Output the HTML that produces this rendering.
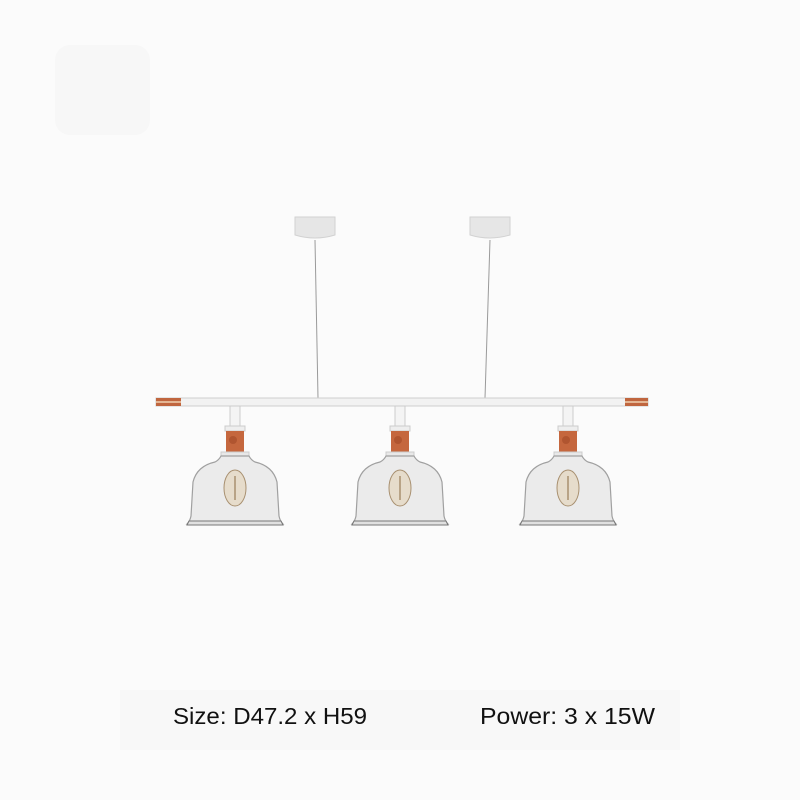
<!DOCTYPE html>
<html><head><style>
html,body{margin:0;padding:0;background:#fbfbfb;}
svg{display:block}
</style></head><body>
<svg width="800" height="800" viewBox="0 0 800 800" xmlns="http://www.w3.org/2000/svg">
<rect width="800" height="800" fill="#fbfbfb"/>
<rect x="55" y="45" width="95" height="90" rx="15" fill="#f7f7f7"/>
<g fill="#e6e6e6" stroke="#d2d2d2" stroke-width="1">
<path d="M295 217 h40 v18 q-20 6 -40 0z"/>
<path d="M470 217 h40 v18 q-20 6 -40 0z"/>
</g>
<line x1="315" y1="240" x2="318" y2="398" stroke="#9a9a9a" stroke-width="1"/>
<line x1="490" y1="240" x2="485" y2="398" stroke="#9a9a9a" stroke-width="1"/>
<rect x="156" y="398" width="492" height="8" fill="#f2f2f2" stroke="#cfcfcf" stroke-width="1"/>
<rect x="156" y="398" width="25" height="8" fill="#c0663f"/>
<rect x="625" y="398" width="23" height="8" fill="#c0663f"/>
<line x1="156" y1="402" x2="181" y2="402" stroke="#f0d0b0" stroke-width="1.5"/>
<line x1="625" y1="402" x2="648" y2="402" stroke="#f0d0b0" stroke-width="1.5"/>
<defs>
<g id="lamp">
<rect x="-5" y="406" width="10" height="22" fill="#f4f4f4" stroke="#ccc"/>
<rect x="-10" y="426" width="20" height="5" fill="#eee" stroke="#ccc"/>
<rect x="-9" y="431" width="18" height="22" fill="#c5673e"/>
<circle cx="-2" cy="440" r="4" fill="#b05530"/>
<rect x="-14" y="452" width="28" height="4" fill="#e8e8e8" stroke="#ccc"/>
<path d="M-14 456 q-2 4 -6 6 q-18 4 -22 20 l-2 34 q-1 5 -4 8 h96 q-3 -3 -4 -8 l-2 -34 q-4 -16 -22 -20 q-4 -2 -6 -6z" fill="#e8e8e8" stroke="#a0a0a0" stroke-width="1.2" fill-opacity="0.85"/>
<path d="M-46 521 h92 l2 4 h-96z" fill="#e0e0e0" stroke="#777" stroke-width="1"/>
<ellipse cx="0" cy="488" rx="11" ry="18" fill="#e6dccb" stroke="#a89070" stroke-width="1"/>
<line x1="0" y1="476" x2="0" y2="500" stroke="#8a6a40" stroke-width="1"/>
</g>
</defs>
<use href="#lamp" x="235"/>
<use href="#lamp" x="400"/>
<use href="#lamp" x="568"/>
<rect x="120" y="690" width="560" height="60" fill="#f8f8f8"/>
<text x="173" y="724" font-family="Liberation Sans, sans-serif" font-size="23" fill="#111" textLength="194" lengthAdjust="spacingAndGlyphs">Size: D47.2 x H59</text>
<text x="480" y="724" font-family="Liberation Sans, sans-serif" font-size="23" fill="#111" textLength="175" lengthAdjust="spacingAndGlyphs">Power: 3 x 15W</text>
</svg>
</body></html>
